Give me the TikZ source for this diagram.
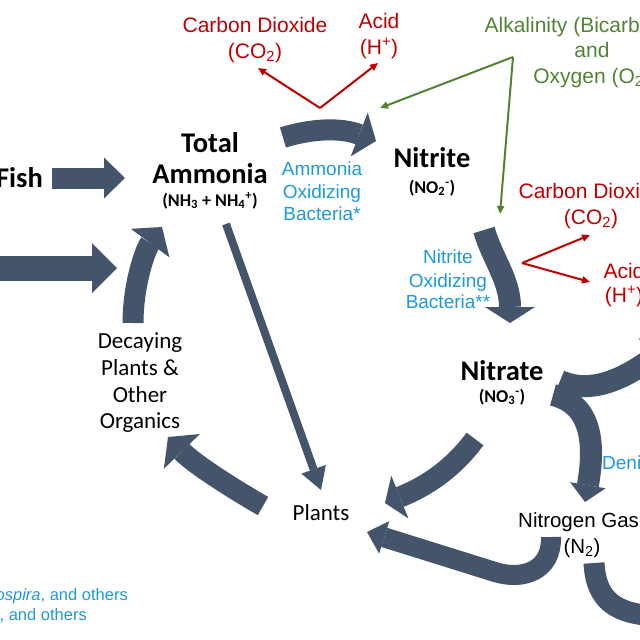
\documentclass[tikz,border=0pt]{standalone}
\usepackage{fontspec}
\setmainfont{Liberation Sans}
\newfontfamily\calfont{Carlito}
\usetikzlibrary{arrows.meta}
\definecolor{slate}{HTML}{44546A}
\definecolor{cred}{HTML}{C00000}
\definecolor{cgreen}{HTML}{548235}
\definecolor{cblue}{HTML}{1F9AD6}
\begin{document}
\begin{tikzpicture}[x=1pt,y=-1pt,
  every node/.style={inner sep=0pt,anchor=base},
  fat/.style n args={3}{draw=slate,line width=#1,line cap=butt,-{Triangle[length=#2,width=#3,line width=0pt]}},
  band/.style={draw=slate,line width=#1,line cap=butt},
  thinarr/.style={draw=#1,line width=2pt,-{Triangle[length=8pt,width=7pt]}},
  bigbold/.style={font=\calfont\bfseries\fontsize{28.5}{30}\selectfont},
  smallbold/.style={font=\calfont\bfseries\fontsize{18}{20}\selectfont},
  callab/.style={font=\calfont\fontsize{23}{26}\selectfont},
  redlab/.style={text=cred,font=\fontsize{21}{25}\selectfont},
  greenlab/.style={text=cgreen,font=\fontsize{21}{25}\selectfont},
  bluelab/.style={text=cblue,font=\fontsize{19}{22}\selectfont},
  notelab/.style={text=cblue,font=\fontsize{16.5}{20}\selectfont},
  gaslab/.style={font=\fontsize{20.5}{25}\selectfont}]
\path[use as bounding box] (0,0) rectangle (640,640);
\fill[white] (0,0) rectangle (640,640);
\clip (0,0) rectangle (640,640);

% ---- text nodes ----
\node[redlab] (co2a) at (255,32) {Carbon Dioxide};
\node[redlab] (co2b) at (255,58) {(CO\textsubscript{2})};
\node[redlab] (acida) at (379,28) {Acid};
\node[redlab] (acidb) at (379,54) {(H\textsuperscript{+})};
\node[greenlab] (alka) at (592,32) {Alkalinity (Bicarbonate)};
\node[greenlab] (alkb) at (592,57) {and};
\node[greenlab] (alkc) at (592,83) {Oxygen (O\textsubscript{2})};

\node[bigbold,anchor=base east] (fish) at (43,187) {Fish};
\node[bigbold] (tota) at (210,152) {Total};
\node[bigbold] (totb) at (210,183) {Ammonia};
\node[smallbold] (totc) at (210,206) {(NH\textsubscript{3} + NH\textsubscript{4}\textsuperscript{+})};

\node[bluelab] (aoba) at (322,175) {Ammonia};
\node[bluelab] (aobb) at (322,198) {Oxidizing};
\node[bluelab] (aobc) at (322,220) {Bacteria*};

\node[bigbold] (nita) at (432,167) {Nitrite};
\node[smallbold] (nitb) at (432,193) {(NO\textsubscript{2}\textsuperscript{-})};

\node[redlab] (co2c) at (591,198) {Carbon Dioxide};
\node[redlab] (co2d) at (591,224) {(CO\textsubscript{2})};
\node[redlab] (acidc) at (624,278) {Acid};
\node[redlab] (acidd) at (624,302) {(H\textsuperscript{+})};

\node[bluelab] (noba) at (448,263) {Nitrite};
\node[bluelab] (nobb) at (448,287) {Oxidizing};
\node[bluelab] (nobc) at (448,308) {Bacteria**};

\node[bigbold] (nata) at (502,380) {Nitrate};
\node[smallbold] (natb) at (502,402) {(NO\textsubscript{3}\textsuperscript{-})};

\node[callab] (deca) at (140,348) {Decaying};
\node[callab] (decb) at (140,375) {Plants \&};
\node[callab] (decc) at (140,402) {Other};
\node[callab] (decd) at (140,428) {Organics};

\node[callab] (plants) at (321,520) {Plants};

\node[gaslab,anchor=base west] (gasa) at (518,527) {Nitrogen Gas};
\node[gaslab] (gasb) at (582,553) {(N\textsubscript{2})};
\node[bluelab,anchor=base west] (deni) at (602,469) {Denitrifying Bacteria};

\node[notelab,anchor=base east] (notea) at (128,600) {*\textit{Nitrosomonas}, \textit{Nitrosospira}, and others};
\node[notelab,anchor=base east] (noteb) at (87,620) {**\textit{Nitrobacter}, \textit{Nitrospira}, and others};

% ---- connector end points ----
\coordinate (fishS) at (52,178);   \coordinate (fishE) at (125,178);
\coordinate (leftS) at (-5,268);   \coordinate (leftE) at (117,268);
\coordinate (decS) at (133,323);   \coordinate (decE) at (162,227);
\coordinate (amS) at (283,137.5);  \coordinate (amE) at (376,141);
\coordinate (niS) at (484,230);    \coordinate (niE) at (510,323);
\coordinate (naAS) at (560,381);   \coordinate (naAE) at (669,346);
\coordinate (naBS) at (553,395);   \coordinate (naBE) at (585,502);
\coordinate (npS) at (475,439);    \coordinate (npE) at (385,503);
\coordinate (gpS) at (551,537);    \coordinate (gpM) at (495,572);  \coordinate (gpE) at (367,532);
\coordinate (grS) at (594,563);    \coordinate (grE) at (660,616);
\coordinate (pdS) at (263,506);    \coordinate (pdE) at (168,437);
\coordinate (apS) at (226,224);    \coordinate (apE) at (321,490);
\coordinate (rv1) at (320,108);    \coordinate (rt1) at (258,68);   \coordinate (rt2) at (378,63);
\coordinate (gv) at (513,57);      \coordinate (gt1) at (380,108);  \coordinate (gt2) at (500,214);
\coordinate (rv2) at (522,263);    \coordinate (rt3) at (590,235);  \coordinate (rt4) at (590,282);

% ---- big arrows ----
\draw[fat={21pt}{21pt}{41pt}] (fishS) -- (fishE);
\draw[fat={25pt}{25pt}{50pt}] (leftS) -- (leftE);
\draw[fat={21pt}{20pt}{48pt}] (decS) .. controls (133,285) and (145,250) .. (decE);
\draw[fat={21pt}{18pt}{47pt}] (amS) .. controls (310,129) and (340,127) .. (amE);
\draw[fat={22pt}{16pt}{50pt}] (niS) .. controls (492,258) and (510,280) .. (niE);
\draw[fat={22pt}{20pt}{48pt}] (naAS) .. controls (592,395) and (625,378) .. (naAE);
\draw[fat={22pt}{17pt}{36pt}] (naBS) .. controls (595,405) and (594,450) .. (naBE);
\draw[fat={21pt}{16pt}{46pt}] (npS) .. controls (455,466) and (430,485) .. (npE);
\draw[fat={20pt}{18pt}{34pt}] (gpS) .. controls (552,570) and (524,581) .. (gpM) -- (gpE);
\draw[band=21pt] (grS) .. controls (596,600) and (615,615) .. (grE);
\draw[fat={21pt}{20pt}{50pt}] (pdS) .. controls (240,493) and (195,465) .. (pdE);
\draw[fat={8pt}{22pt}{26pt}] (apS) -- (apE);

% ---- thin arrows ----
\draw[thinarr=cred] (rv1) -- (rt1);
\draw[thinarr=cred] (rv1) -- (rt2);
\draw[thinarr=cgreen] (gv) -- (gt1);
\draw[thinarr=cgreen] (gv) -- (gt2);
\draw[thinarr=cred] (rv2) -- (rt3);
\draw[thinarr=cred] (rv2) -- (rt4);
\end{tikzpicture}
\end{document}
